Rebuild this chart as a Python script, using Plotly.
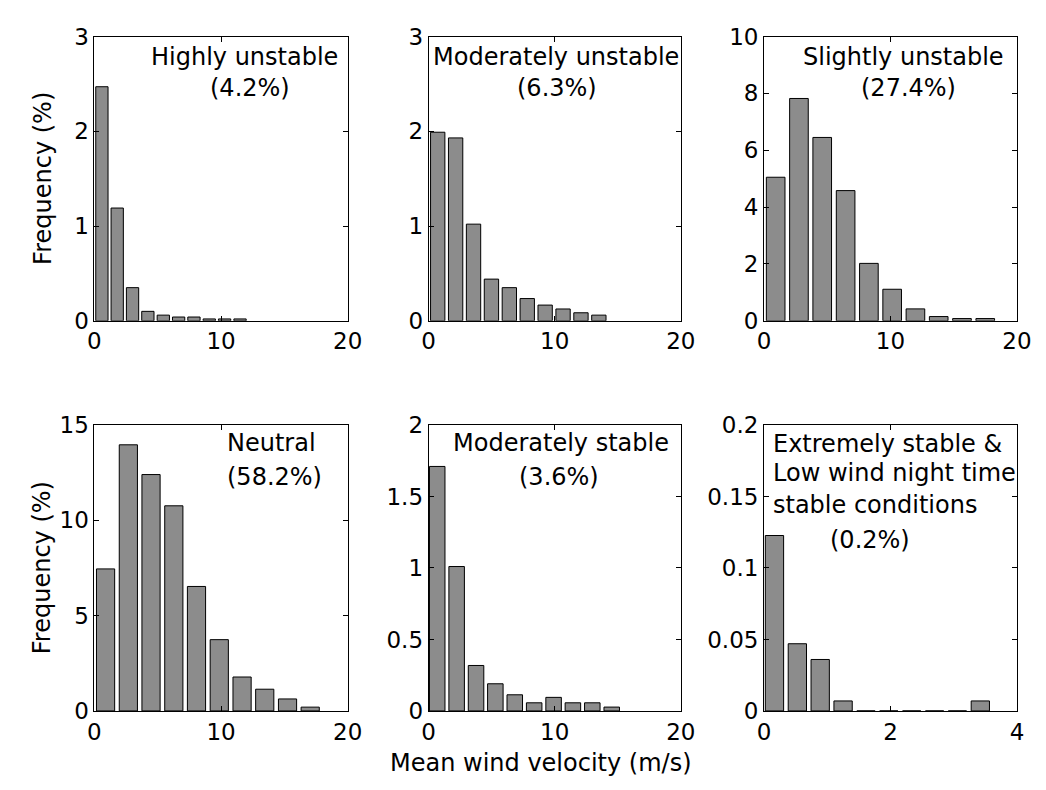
import plotly.graph_objects as go

# ---------------- data ----------------
hu_x = [0.59, 1.80, 3.01, 4.22, 5.44, 6.65, 7.86, 9.07, 10.28, 11.50]
hu_y = [2.47, 1.19, 0.35, 0.10, 0.06, 0.04, 0.04, 0.02, 0.02, 0.02]

mu_x = [0.72, 2.14, 3.56, 4.98, 6.40, 7.82, 9.24, 10.66, 12.08, 13.50]
mu_y = [1.99, 1.93, 1.02, 0.44, 0.35, 0.235, 0.166, 0.125, 0.085, 0.06]

su_x = [0.92, 2.76, 4.60, 6.45, 8.29, 10.13, 11.97, 13.81, 15.65, 17.49]
su_y = [5.05, 7.82, 6.45, 4.58, 2.02, 1.11, 0.42, 0.15, 0.08, 0.08]

ne_x = [0.88, 2.68, 4.47, 6.27, 8.06, 9.86, 11.66, 13.45, 15.25, 17.04]
ne_y = [7.45, 13.96, 12.40, 10.76, 6.53, 3.74, 1.78, 1.14, 0.63, 0.20]

ms_x = [0.68, 2.22, 3.76, 5.29, 6.83, 8.37, 9.91, 11.44, 12.98, 14.52]
ms_y = [1.71, 1.01, 0.318, 0.19, 0.113, 0.057, 0.095, 0.057, 0.057, 0.027]

es_x = [0.165, 0.527, 0.888, 1.250, 1.612, 1.973, 2.335, 2.697, 3.058, 3.420]
es_y = [0.1227, 0.047, 0.036, 0.007, 0.0, 0.0, 0.0, 0.0, 0.0, 0.007]

panels = [
    (hu_x, hu_y, [0, 20], [0, 10, 20], [0, 3], [0, 1, 2, 3]),
    (mu_x, mu_y, [0, 20], [0, 10, 20], [0, 3], [0, 1, 2, 3]),
    (su_x, su_y, [0, 20], [0, 10, 20], [0, 10], [0, 2, 4, 6, 8, 10]),
    (ne_x, ne_y, [0, 20], [0, 10, 20], [0, 15], [0, 5, 10, 15]),
    (ms_x, ms_y, [0, 20], [0, 10, 20], [0, 2], [0, 0.5, 1, 1.5, 2]),
    (es_x, es_y, [0, 4], [0, 2, 4], [0, 0.2], [0, 0.05, 0.1, 0.15, 0.2]),
]

# (text, x_px, y_px, anchor)
labels = [
    ("Highly unstable", 242.5, 45, "center"), ("(4.2%)", 248.5, 78, "center"),
    ("Moderately unstable", 561, 45, "center"), ("(6.3%)", 562, 78, "center"),
    ("Slightly unstable", 916, 45, "center"), ("(27.4%)", 921, 78, "center"),
    ("Neutral", 222.7, 445, "left"), ("(58.2%)", 222.7, 480, "left"),
    ("Moderately stable", 566, 445, "center"), ("(3.6%)", 564, 480, "center"),
    ("Extremely stable &", 780, 446, "left"), ("Low wind night time", 780, 476, "left"),
    ("stable conditions", 780, 509, "left"), ("(0.2%)", 881.5, 545, "center"),
]

W, H = 1046, 790
FONT = "DejaVu Sans"
FS = 23

# panel boxes in pixels: (left, right, top, bottom)
cols = [(89.3, 348.0), (430.7, 688.3), (773.3, 1031.7)]
rows = [(24.3, 318.3), (426.0, 721.7)]

fig = go.Figure()
layout = {}
for i, (xs, ys, xr, xt, yr, yt) in enumerate(panels):
    r, c = divmod(i, 3)
    n = "" if i == 0 else str(i + 1)
    step = (xs[-1] - xs[0]) / (len(xs) - 1)
    fig.add_trace(go.Bar(
        x=xs, y=ys, width=[0.8 * step] * len(xs),
        marker=dict(color="#8c8c8c", line=dict(color="#000000", width=1)),
        xaxis="x" + n, yaxis="y" + n, showlegend=False,
    ))
    l, rr = cols[c]
    t, b = rows[r]
    common = dict(
        showline=True, linecolor="black", linewidth=1, mirror="allticks",
        ticks="inside", ticklen=5, tickcolor="black", showgrid=False,
        zeroline=False, tickfont=dict(family=FONT, size=FS, color="black"),
    )
    layout["xaxis" + n] = dict(common, domain=[l / W, rr / W], range=xr,
                               tickvals=xt, anchor="y" + n)
    layout["yaxis" + n] = dict(common, domain=[1 - b / H, 1 - t / H], range=yr,
                               tickvals=yt, anchor="x" + n)

annots = []
for text, xp, yp, anc in labels:
    annots.append(dict(text=text, x=xp / W, y=1 - yp / H, xref="paper", yref="paper",
                       xanchor=anc, yanchor="middle", showarrow=False,
                       font=dict(family=FONT, size=FS + 1, color="black")))
# axis titles
for yc in [(24.3 + 318.3) / 2, (426.0 + 721.7) / 2]:
    annots.append(dict(text="Frequency (%)", x=36 / W, y=1 - yc / H, xref="paper",
                       yref="paper", xanchor="center", yanchor="middle",
                       textangle=-90, showarrow=False,
                       font=dict(family=FONT, size=FS + 1, color="black")))
annots.append(dict(text="Mean wind velocity (m/s)", x=545.5 / W, y=1 - 776 / H,
                   xref="paper", yref="paper", xanchor="center", yanchor="middle",
                   showarrow=False, font=dict(family=FONT, size=FS + 1, color="black")))

fig.update_layout(
    width=W, height=H, margin=dict(l=0, r=0, t=0, b=0),
    paper_bgcolor="white", plot_bgcolor="white",
    annotations=annots, bargap=0.2, **layout,
)
fig.write_html("out.html")
